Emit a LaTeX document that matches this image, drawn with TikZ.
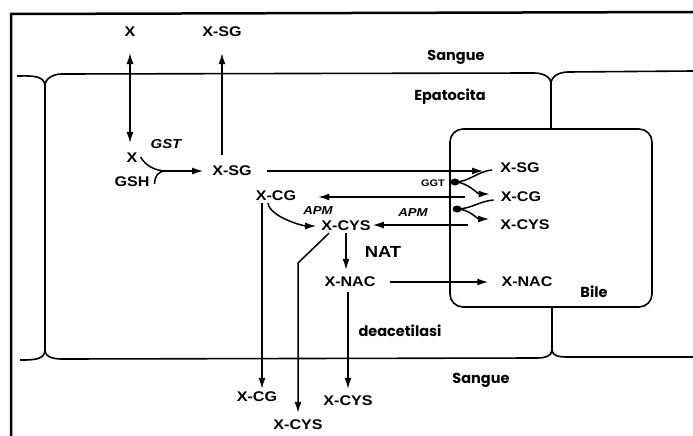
\documentclass[tikz,border=0pt]{standalone}
\usepackage{fontspec}
\newfontfamily\molfont[FakeStretch=1.15]{Liberation Sans}
\newfontfamily\zonefont{Poppins}
\usetikzlibrary{positioning,arrows.meta,shapes.geometric}

\begin{document}
\begin{tikzpicture}[
        x=1pt, y=-1pt,
        mol/.style={font=\molfont\bfseries\fontsize{14}{16}\selectfont, inner sep=2pt},
        enz/.style={font=\molfont\bfseries\itshape\fontsize{13}{15}\selectfont, inner sep=2pt},
        zone/.style={font=\zonefont\bfseries\fontsize{14.5}{17}\selectfont, inner sep=2pt},
        pore/.style={ellipse, fill, minimum width=9pt, minimum height=7pt, inner sep=0pt},
        lin/.style={line width=1.5pt},
        arr/.style={-{Latex[length=11pt,width=7pt]}, line width=1.5pt},
        arrr/.style={{Latex[length=11pt,width=7pt]}-{Latex[length=11pt,width=7pt]}, line width=1.5pt},
        mem/.style={line width=1.6pt},
        frm/.style={line width=2.5pt}
      ]
      \useasboundingbox (0,0) rectangle (693,436);

      % Frame and membranes
      \draw[frm] (11,436) -- (11,14) -- (693,12);
      \draw[mem] (17,76) to[out=0,in=90] (45,86);
      \draw[mem] (45,86) to[out=90,in=180] (62,74) -- (534,73) to[out=0,in=90] (551,84);
      \draw[mem] (551,84) to[out=90,in=180] (568,72) -- (693,71);
      \draw[mem] (45,86) -- (45,350);
      \draw[mem] (20,360) to[out=0,in=-90] (45,350);
      \draw[mem] (45,350) to[out=-90,in=180] (63,359) -- (538,358) to[out=0,in=-90] (552,350);
      \draw[mem] (552,350) to[out=-90,in=180] (566,357) -- (693,357);
      \draw[mem] (551,84) -- (551,129);
      \draw[mem] (552,307) -- (552,350);
      \draw[mem, rounded corners=13pt] (450,129) rectangle (652,307);

      % Zone labels
      \node[zone] (sangtop) at (456,57) {Sangue};
      \node[zone] (epat) at (450,97) {Epatocita};
      \node[zone] (bile) at (594,292) {Bile};
      \node[zone] (deac) at (400,331) {deacetilasi};
      \node[zone] (sangbot) at (481,380) {Sangue};

      % Blood, top
      \node[mol] (xtop) at (130,32) {X};
      \node[mol] (xsgtop) at (222,32) {X-SG};

      % Hepatocyte
      \node[mol] (xin) at (132,158) {X};
      \node[enz] (gst) at (166,144) {GST};
      \node[mol] (gsh) at (132,182) {GSH};
      \node[mol] (xsg) at (232,171) {X-SG};
      \node[mol] (xcg) at (276,196) {X-CG};
      \node[enz, font=\molfont\bfseries\itshape\fontsize{11.5}{13}\selectfont] (apml) at (318,211) {APM};
      \node[mol] (xcys) at (346,226) {X-CYS};
      \node[mol, font=\molfont\bfseries\fontsize{16}{18}\selectfont] (nat) at (383,252) {NAT};
      \node[mol] (xnac) at (350,282) {X-NAC};
      \coordinate (gstjn) at (166,171);
      \coordinate (cysbend) at (298,263);

      % Bile
      \node[mol] (bsg) at (520,168) {X-SG};
      \node[mol] (bcg) at (521,197) {X-CG};
      \node[mol] (bcys) at (525,225) {X-CYS};
      \node[mol] (bnac) at (527,282) {X-NAC};
      \node[mol, font=\molfont\bfseries\fontsize{9.5}{11}\selectfont] (ggt) at (433,183) {GGT};
      \node[enz, font=\molfont\bfseries\itshape\fontsize{11.5}{13}\selectfont] (apmr) at (413,213) {APM};
      \node[pore] (ggtdot) at (455,182) {};
      \node[pore] (apmdot) at (457,209) {};

      % Blood, bottom
      \node[mol] (cgout) at (257,397) {X-CG};
      \node[mol] (cysout) at (298,425) {X-CYS};
      \node[mol] (cysdea) at (348,401) {X-CYS};

      % Uptake and conjugation
      \draw[arrr, shorten <=14pt, shorten >=8pt] (xtop.south) -- (xtop.south |- xin.north);
      \draw[arr, shorten <=9pt, shorten >=14pt] (xsg.north -| xsgtop) -- (xsgtop.south);
      \draw[lin] ([xshift=1pt,yshift=1pt]xin.east) .. controls +(5,9) and +(-10,0) .. (gstjn);
      \draw[lin] ([xshift=3pt,yshift=-2pt]gsh.east) .. controls +(0,-8) and +(-8,0) .. (gstjn);
      \draw[arr, shorten >=7pt] (gstjn) -- (xsg.west);
      \draw[arr, shorten <=13pt, shorten >=15pt] (xsg.east) -- (xsg.east -| bsg.west);

      % Canalicular hydrolysis
      \draw[lin] (ggtdot.center) .. controls +(14,0) and +(-14,1) .. ([xshift=-6pt,yshift=-2pt]bsg.west);
      \draw[arr] (ggtdot.center) .. controls +(12,0) and +(-12,0) .. ([xshift=-9pt,yshift=3pt]bcg.west);
      \draw[lin] (apmdot.center) .. controls +(14,0) and +(-14,1) .. ([xshift=-5pt,yshift=-3pt]bcg.west);
      \draw[arr] (apmdot.center) .. controls +(12,0) and +(-12,0) .. ([xshift=-9pt,yshift=6pt]bcys.west);

      % Reabsorption and N-acetylation
      \draw[arr, shorten <=34pt, shorten >=20pt] (bcg.west) -- (bcg.west -| xcg.east);
      \draw[arr, shorten <=30pt] (bcys.west) -- (bcys.west -| xcys.east);
      \draw[arr, shorten >=3pt] ([xshift=-8pt]xcg.south) .. controls +(2,14) and +(-16,0) .. (xcys.west);
      \draw[arr, shorten >=5pt] (xcys.south) -- (xcys.south |- xnac.north);
      \draw[arr, shorten <=12pt, shorten >=11pt] (xnac.east) -- (xnac.east -| bnac.west);

      % Efflux to blood
      \draw[arr, shorten <=3pt, shorten >=5pt] ([xshift=-2pt]xnac.south) -- ([xshift=-2pt]xnac.south |- cysdea.north);
      \draw[arr, shorten >=1pt] ([xshift=-14pt]xcg.south) -- ([xshift=-14pt]xcg.south |- cgout.north);
      \draw[arr, shorten >=5pt] ([xshift=-17pt]xcys.south) -- (cysbend) -- (cysbend |- cysout.north);
\end{tikzpicture}
\end{document}
